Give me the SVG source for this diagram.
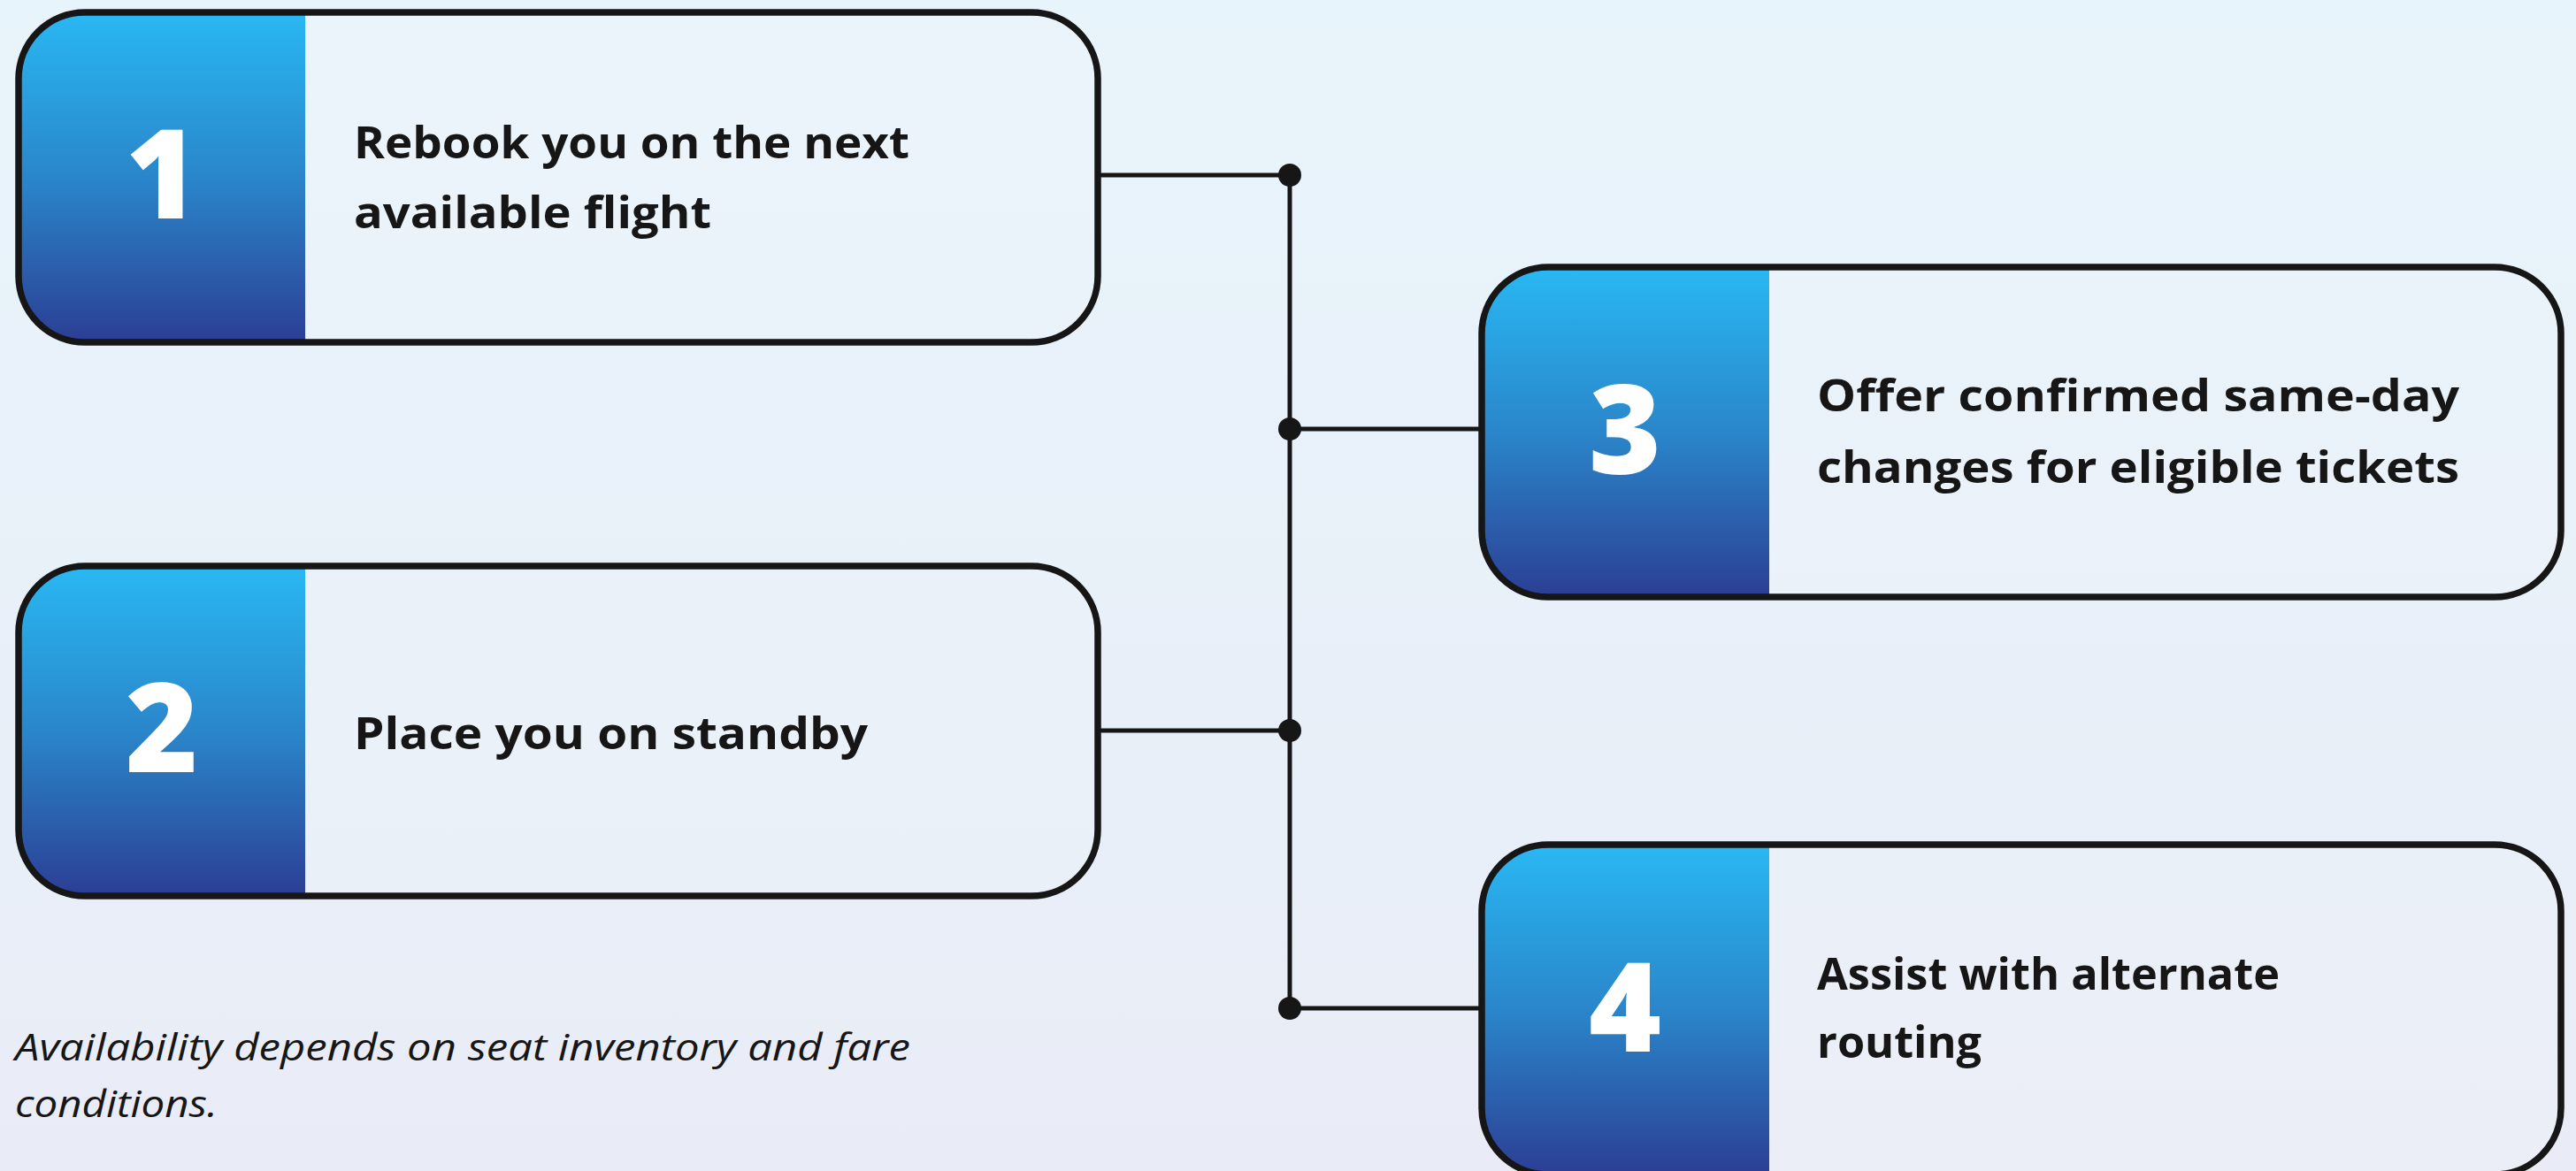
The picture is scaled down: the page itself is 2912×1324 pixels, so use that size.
<svg xmlns="http://www.w3.org/2000/svg" width="2912" height="1324" viewBox="0 0 2912 1324">
  <defs>
    <linearGradient id="bg" x1="0" y1="0" x2="0" y2="1">
      <stop offset="0" stop-color="#e8f4fb"/>
      <stop offset="1" stop-color="#e9ecf6"/>
    </linearGradient>
    <linearGradient id="panel" x1="0" y1="0" x2="0" y2="1">
      <stop offset="0" stop-color="#29b8f3"/>
      <stop offset="0.5" stop-color="#2a86ca"/>
      <stop offset="1" stop-color="#2c3e94"/>
    </linearGradient>
    <clipPath id="boxclip" clipPathUnits="userSpaceOnUse">
      <rect x="0" y="0" width="1220" height="373" rx="75" ry="75"/>
    </clipPath>
    <style>
      .bgfill { fill: #ffffff; fill-opacity: 0.12; }
      .frame { fill: none; stroke: #161616; stroke-width: 7.5; }
      .panel { fill: url(#panel); }
      .num { font-family: "Open Sans", "Liberation Sans", sans-serif; font-weight: 800; font-size: 140px; fill: #ffffff; text-anchor: middle; }
      .label { font-family: "Open Sans", "Liberation Sans", sans-serif; font-weight: 700; font-size: 51px; fill: #161616; }
      .note { font-family: "Open Sans", "Liberation Sans", sans-serif; font-style: italic; font-weight: 400; font-size: 42px; fill: #161616; }
      .conn { stroke: #161616; stroke-width: 5; fill: none; }
      .dot { fill: #161616; }
    </style>
  </defs>
  <rect x="0" y="0" width="2912" height="1324" fill="url(#bg)"/>

  <g id="connectors">
    <line class="conn" x1="1240" y1="198" x2="1458" y2="198"/>
    <line class="conn" x1="1240" y1="826" x2="1458" y2="826"/>
    <line class="conn" x1="1458" y1="485" x2="1675" y2="485"/>
    <line class="conn" x1="1458" y1="1140" x2="1675" y2="1140"/>
    <line class="conn" x1="1458" y1="198" x2="1458" y2="1140"/>
    <circle class="dot" cx="1458" cy="198" r="13"/>
    <circle class="dot" cx="1458" cy="485" r="13"/>
    <circle class="dot" cx="1458" cy="826" r="13"/>
    <circle class="dot" cx="1458" cy="1140" r="13"/>
  </g>

  <g id="node1" transform="translate(21,14)">
    <rect class="bgfill" x="0" y="0" width="1220" height="373" rx="75" ry="75"/>
    <rect class="panel" x="0" y="0" width="324" height="373" clip-path="url(#boxclip)"/>
    <rect class="frame" x="0" y="0" width="1220" height="373" rx="75" ry="75"/>
    <text class="num" x="162" y="233">1</text>
    <text class="label" x="379" y="165" textLength="628" lengthAdjust="spacingAndGlyphs">Rebook you on the next</text>
    <text class="label" x="379" y="244" textLength="404" lengthAdjust="spacingAndGlyphs">available flight</text>
  </g>

  <g id="node2" transform="translate(21,640)">
    <rect class="bgfill" x="0" y="0" width="1220" height="373" rx="75" ry="75"/>
    <rect class="panel" x="0" y="0" width="324" height="373" clip-path="url(#boxclip)"/>
    <rect class="frame" x="0" y="0" width="1220" height="373" rx="75" ry="75"/>
    <text class="num" x="162" y="233">2</text>
    <text class="label" x="379" y="207" textLength="581" lengthAdjust="spacingAndGlyphs">Place you on standby</text>
  </g>

  <g id="node3" transform="translate(1675,302)">
    <rect class="bgfill" x="0" y="0" width="1220" height="373" rx="75" ry="75"/>
    <rect class="panel" x="0" y="0" width="325" height="373" clip-path="url(#boxclip)"/>
    <rect class="frame" x="0" y="0" width="1220" height="373" rx="75" ry="75"/>
    <text class="num" x="162" y="234">3</text>
    <text class="label" x="379" y="163" textLength="726" lengthAdjust="spacingAndGlyphs">Offer confirmed same-day</text>
    <text class="label" x="379" y="244" textLength="726" lengthAdjust="spacingAndGlyphs">changes for eligible tickets</text>
  </g>

  <g id="node4" transform="translate(1675,955)">
    <rect class="bgfill" x="0" y="0" width="1220" height="373" rx="75" ry="75"/>
    <rect class="panel" x="0" y="0" width="325" height="373" clip-path="url(#boxclip)"/>
    <rect class="frame" x="0" y="0" width="1220" height="373" rx="75" ry="75"/>
    <text class="num" x="162" y="234">4</text>
    <text class="label" x="379" y="164" textLength="523" lengthAdjust="spacingAndGlyphs">Assist with alternate</text>
    <text class="label" x="379" y="241" textLength="186" lengthAdjust="spacingAndGlyphs">routing</text>
  </g>

  <g id="footnote">
    <text class="note" x="17" y="1199" textLength="1012" lengthAdjust="spacingAndGlyphs">Availability depends on seat inventory and fare</text>
    <text class="note" x="17" y="1263" textLength="229" lengthAdjust="spacingAndGlyphs">conditions.</text>
  </g>
</svg>
